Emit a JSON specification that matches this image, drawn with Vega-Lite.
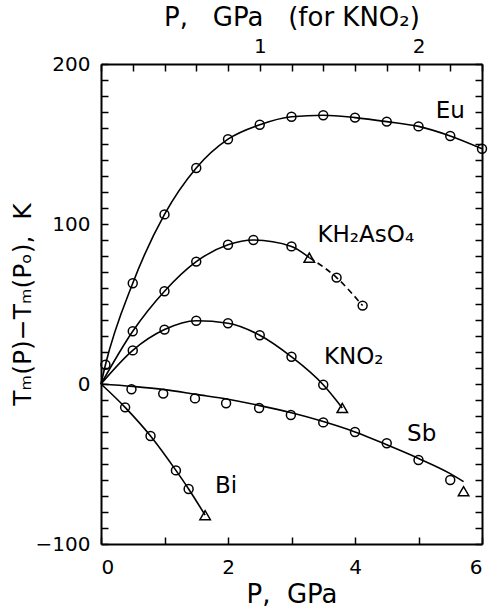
{
  "$schema": "https://vega.github.io/schema/vega-lite/v6.json",
  "width": 381,
  "height": 480,
  "autosize": "none",
  "padding": {"left": 101, "top": 64, "right": 12, "bottom": 63},
  "background": "white",
  "config": {
    "view": {"stroke": null},
    "font": "DejaVu Sans",
    "axis": {
      "labelColor": "black", "titleColor": "black", "labelFont": "DejaVu Sans", "titleFont": "DejaVu Sans",
      "labelFontSize": 20, "titleFontSize": 26, "titleFontWeight": "normal", "grid": false
    }
  },
  "datasets": {
    "pts": [
      {"s": "Eu", "P": 0.07, "T": 12, "m": "o"},
      {"s": "Eu", "P": 0.5, "T": 63, "m": "o"},
      {"s": "Eu", "P": 1.0, "T": 106, "m": "o"},
      {"s": "Eu", "P": 1.5, "T": 135, "m": "o"},
      {"s": "Eu", "P": 2.0, "T": 153, "m": "o"},
      {"s": "Eu", "P": 2.5, "T": 162, "m": "o"},
      {"s": "Eu", "P": 3.0, "T": 167, "m": "o"},
      {"s": "Eu", "P": 3.5, "T": 168, "m": "o"},
      {"s": "Eu", "P": 4.0, "T": 166.5, "m": "o"},
      {"s": "Eu", "P": 4.5, "T": 164, "m": "o"},
      {"s": "Eu", "P": 5.0, "T": 161, "m": "o"},
      {"s": "Eu", "P": 5.5, "T": 155, "m": "o"},
      {"s": "Eu", "P": 6.0, "T": 147, "m": "o"},
      {"s": "KH2AsO4", "P": 0.5, "T": 33, "m": "o"},
      {"s": "KH2AsO4", "P": 1.0, "T": 58, "m": "o"},
      {"s": "KH2AsO4", "P": 1.5, "T": 76.5, "m": "o"},
      {"s": "KH2AsO4", "P": 2.0, "T": 87, "m": "o"},
      {"s": "KH2AsO4", "P": 2.4, "T": 90, "m": "o"},
      {"s": "KH2AsO4", "P": 3.0, "T": 86, "m": "o"},
      {"s": "KH2AsO4", "P": 3.28, "T": 79, "m": "tri"},
      {"s": "KH2AsO4", "P": 3.71, "T": 66.5, "m": "o"},
      {"s": "KH2AsO4", "P": 4.12, "T": 49, "m": "o"},
      {"s": "Sb", "P": 0.48, "T": -3.3, "m": "o"},
      {"s": "Sb", "P": 0.98, "T": -6, "m": "o"},
      {"s": "Sb", "P": 1.48, "T": -9, "m": "o"},
      {"s": "Sb", "P": 1.97, "T": -12, "m": "o"},
      {"s": "Sb", "P": 2.49, "T": -15, "m": "o"},
      {"s": "Sb", "P": 2.99, "T": -19.4, "m": "o"},
      {"s": "Sb", "P": 3.5, "T": -24, "m": "o"},
      {"s": "Sb", "P": 4.0, "T": -30, "m": "o"},
      {"s": "Sb", "P": 4.5, "T": -37, "m": "o"},
      {"s": "Sb", "P": 5.0, "T": -47.5, "m": "o"},
      {"s": "Sb", "P": 5.5, "T": -60, "m": "o"},
      {"s": "Sb", "P": 5.71, "T": -67, "m": "tri"},
      {"s": "Bi", "P": 0.38, "T": -14.6, "m": "o"},
      {"s": "Bi", "P": 0.78, "T": -32.5, "m": "o"},
      {"s": "Bi", "P": 1.18, "T": -54, "m": "o"},
      {"s": "Bi", "P": 1.38, "T": -65.6, "m": "o"},
      {"s": "Bi", "P": 1.64, "T": -82, "m": "tri"}
    ],
    "lines": [
      {"s": "Eu", "dash": "solid", "P": 0, "T": 0},
      {"s": "Eu", "dash": "solid", "P": 0.07, "T": 12},
      {"s": "Eu", "dash": "solid", "P": 0.5, "T": 63},
      {"s": "Eu", "dash": "solid", "P": 1.0, "T": 106},
      {"s": "Eu", "dash": "solid", "P": 1.5, "T": 135},
      {"s": "Eu", "dash": "solid", "P": 2.0, "T": 153},
      {"s": "Eu", "dash": "solid", "P": 2.5, "T": 162},
      {"s": "Eu", "dash": "solid", "P": 3.0, "T": 167},
      {"s": "Eu", "dash": "solid", "P": 3.5, "T": 168},
      {"s": "Eu", "dash": "solid", "P": 4.0, "T": 166.5},
      {"s": "Eu", "dash": "solid", "P": 4.5, "T": 164},
      {"s": "Eu", "dash": "solid", "P": 5.0, "T": 161},
      {"s": "Eu", "dash": "solid", "P": 5.5, "T": 155},
      {"s": "Eu", "dash": "solid", "P": 6.0, "T": 147},
      {"s": "KH2AsO4", "dash": "solid", "P": 0, "T": 0},
      {"s": "KH2AsO4", "dash": "solid", "P": 0.5, "T": 33},
      {"s": "KH2AsO4", "dash": "solid", "P": 1.0, "T": 58},
      {"s": "KH2AsO4", "dash": "solid", "P": 1.5, "T": 76.5},
      {"s": "KH2AsO4", "dash": "solid", "P": 2.0, "T": 87},
      {"s": "KH2AsO4", "dash": "solid", "P": 2.4, "T": 90},
      {"s": "KH2AsO4", "dash": "solid", "P": 3.0, "T": 86},
      {"s": "KH2AsO4", "dash": "solid", "P": 3.28, "T": 79},
      {"s": "KH2AsO4d", "dash": "dashed", "P": 3.28, "T": 79},
      {"s": "KH2AsO4d", "dash": "dashed", "P": 3.71, "T": 66.5},
      {"s": "KH2AsO4d", "dash": "dashed", "P": 4.12, "T": 49},
      {"s": "Sb", "dash": "solid", "P": 0, "T": 0},
      {"s": "Sb", "dash": "solid", "P": 0.5, "T": -1.5},
      {"s": "Sb", "dash": "solid", "P": 1.0, "T": -3.5},
      {"s": "Sb", "dash": "solid", "P": 1.5, "T": -6.5},
      {"s": "Sb", "dash": "solid", "P": 2.0, "T": -9.5},
      {"s": "Sb", "dash": "solid", "P": 2.5, "T": -13.5},
      {"s": "Sb", "dash": "solid", "P": 3.0, "T": -18},
      {"s": "Sb", "dash": "solid", "P": 3.5, "T": -23.5},
      {"s": "Sb", "dash": "solid", "P": 4.0, "T": -30},
      {"s": "Sb", "dash": "solid", "P": 4.5, "T": -38},
      {"s": "Sb", "dash": "solid", "P": 5.0, "T": -46.5},
      {"s": "Sb", "dash": "solid", "P": 5.5, "T": -56},
      {"s": "Sb", "dash": "solid", "P": 5.71, "T": -61},
      {"s": "Bi", "dash": "solid", "P": 0, "T": 0},
      {"s": "Bi", "dash": "solid", "P": 0.38, "T": -14.6},
      {"s": "Bi", "dash": "solid", "P": 0.78, "T": -32.5},
      {"s": "Bi", "dash": "solid", "P": 1.18, "T": -54},
      {"s": "Bi", "dash": "solid", "P": 1.38, "T": -65.6},
      {"s": "Bi", "dash": "solid", "P": 1.64, "T": -82}
    ],
    "labels": [
      {"txt": "Eu", "P": 5.5, "T": 170.5},
      {"txt": "KH₂AsO₄", "P": 4.17, "T": 93},
      {"txt": "KNO₂", "P": 3.98, "T": 17},
      {"txt": "Sb", "P": 5.05, "T": -31},
      {"txt": "Bi", "P": 1.97, "T": -64}
    ],
    "kno2": [
      {"P": 0, "T": 0, "m": "none"},
      {"P": 0.2, "T": 21, "m": "o"},
      {"P": 0.4, "T": 34, "m": "o"},
      {"P": 0.6, "T": 39.5, "m": "o"},
      {"P": 0.8, "T": 38, "m": "o"},
      {"P": 1.0, "T": 30.5, "m": "o"},
      {"P": 1.2, "T": 17, "m": "o"},
      {"P": 1.4, "T": -0.5, "m": "o"},
      {"P": 1.52, "T": -15, "m": "tri"}
    ]
  },
  "layer": [
    {
      "data": {"name": "lines"},
      "transform": [{"filter": "datum.dash == 'solid'"}],
      "mark": {"type": "line", "interpolate": "monotone", "color": "black", "strokeWidth": 1.6},
      "encoding": {
        "detail": {"field": "s"},
        "x": {
          "field": "P", "type": "quantitative",
          "scale": {"domain": [0, 6], "nice": false, "zero": false},
          "axis": {
            "orient": "bottom", "tickCount": 6, "tickSize": -7, "tickColor": "black", "tickWidth": 1.5,
            "domainColor": "black", "domainWidth": 2, "zindex": 1,
            "labelExpr": "datum.value % 2 == 0 ? datum.label : ''",
            "labelPadding": 20, "title": "P,\u00a0\u00a0GPa"
          }
        },
        "y": {
          "field": "T", "type": "quantitative",
          "scale": {"domain": [-100, 200], "nice": false, "zero": false},
          "axis": {
            "orient": "left", "tickCount": 30, "tickSize": -7, "tickColor": "black", "tickWidth": 1.5,
            "domainColor": "black", "domainWidth": 2, "zindex": 1,
            "labelExpr": "datum.value % 100 == 0 ? datum.label : ''",
            "labelPadding": 18, "title": "Tₘ(P)−Tₘ(Pₒ),\u00a0\u00a0K", "titleFontSize": 25, "titlePadding": 0
          }
        }
      }
    },
    {
      "data": {"name": "lines"},
      "transform": [{"filter": "datum.dash == 'dashed'"}],
      "mark": {"type": "line", "interpolate": "monotone", "color": "black", "strokeWidth": 1.6, "strokeDash": [6, 4]},
      "encoding": {
        "x": {"field": "P", "type": "quantitative", "scale": {"domain": [0, 6], "nice": false, "zero": false}, "axis": null},
        "y": {"field": "T", "type": "quantitative", "scale": {"domain": [-100, 200], "nice": false, "zero": false}, "axis": null}
      }
    },
    {
      "data": {"name": "pts"},
      "mark": {"type": "point", "filled": false, "color": "black", "strokeWidth": 1.5, "opacity": 1},
      "encoding": {
        "x": {"field": "P", "type": "quantitative", "scale": {"domain": [0, 6], "nice": false, "zero": false}, "axis": null},
        "y": {"field": "T", "type": "quantitative", "scale": {"domain": [-100, 200], "nice": false, "zero": false}, "axis": null},
        "shape": {"field": "m", "type": "nominal", "scale": {"domain": ["o", "tri"], "range": ["circle", "triangle-up"]}, "legend": null},
        "size": {"field": "m", "type": "nominal", "scale": {"domain": ["o", "tri"], "range": [80, 110]}, "legend": null}
      }
    },
    {
      "data": {"name": "labels"},
      "mark": {"type": "text", "fontSize": 23, "align": "center", "baseline": "middle", "color": "black", "font": "DejaVu Sans"},
      "encoding": {
        "x": {"field": "P", "type": "quantitative", "scale": {"domain": [0, 6], "nice": false, "zero": false}, "axis": null},
        "y": {"field": "T", "type": "quantitative", "scale": {"domain": [-100, 200], "nice": false, "zero": false}, "axis": null},
        "text": {"field": "txt"}
      }
    },
    {
      "data": {"name": "kno2"},
      "mark": {"type": "line", "interpolate": "monotone", "color": "black", "strokeWidth": 1.6},
      "encoding": {
        "x": {
          "field": "P", "type": "quantitative",
          "scale": {"domain": [0, 2.4], "nice": false, "zero": false},
          "axis": {
            "orient": "top", "tickCount": 12, "tickSize": -7, "tickColor": "black", "tickWidth": 1.5,
            "domainColor": "black", "domainWidth": 2, "zindex": 1,
            "labelExpr": "datum.value == 1 ? '1' : datum.value == 2 ? '2' : ''",
            "labelPadding": 15, "title": "P,\u00a0\u00a0\u00a0GPa\u00a0\u00a0\u00a0(for KNO₂)", "titlePadding": 6
          }
        },
        "y": {
          "field": "T", "type": "quantitative",
          "scale": {"domain": [-100, 200], "nice": false, "zero": false},
          "axis": {
            "orient": "right", "tickCount": 30, "tickSize": -7, "tickColor": "black", "tickWidth": 1.5,
            "domainColor": "black", "domainWidth": 2, "zindex": 1,
            "labels": false, "title": null
          }
        }
      }
    },
    {
      "data": {"name": "kno2"},
      "transform": [{"filter": "datum.m != 'none'"}],
      "mark": {"type": "point", "filled": false, "color": "black", "strokeWidth": 1.5, "opacity": 1},
      "encoding": {
        "x": {"field": "P", "type": "quantitative", "scale": {"domain": [0, 2.4], "nice": false, "zero": false}, "axis": null},
        "y": {"field": "T", "type": "quantitative", "scale": {"domain": [-100, 200], "nice": false, "zero": false}, "axis": null},
        "shape": {"field": "m", "type": "nominal", "scale": {"domain": ["o", "tri"], "range": ["circle", "triangle-up"]}, "legend": null},
        "size": {"field": "m", "type": "nominal", "scale": {"domain": ["o", "tri"], "range": [80, 110]}, "legend": null}
      }
    }
  ],
  "resolve": {"scale": {"x": "independent", "y": "independent"}}
}
